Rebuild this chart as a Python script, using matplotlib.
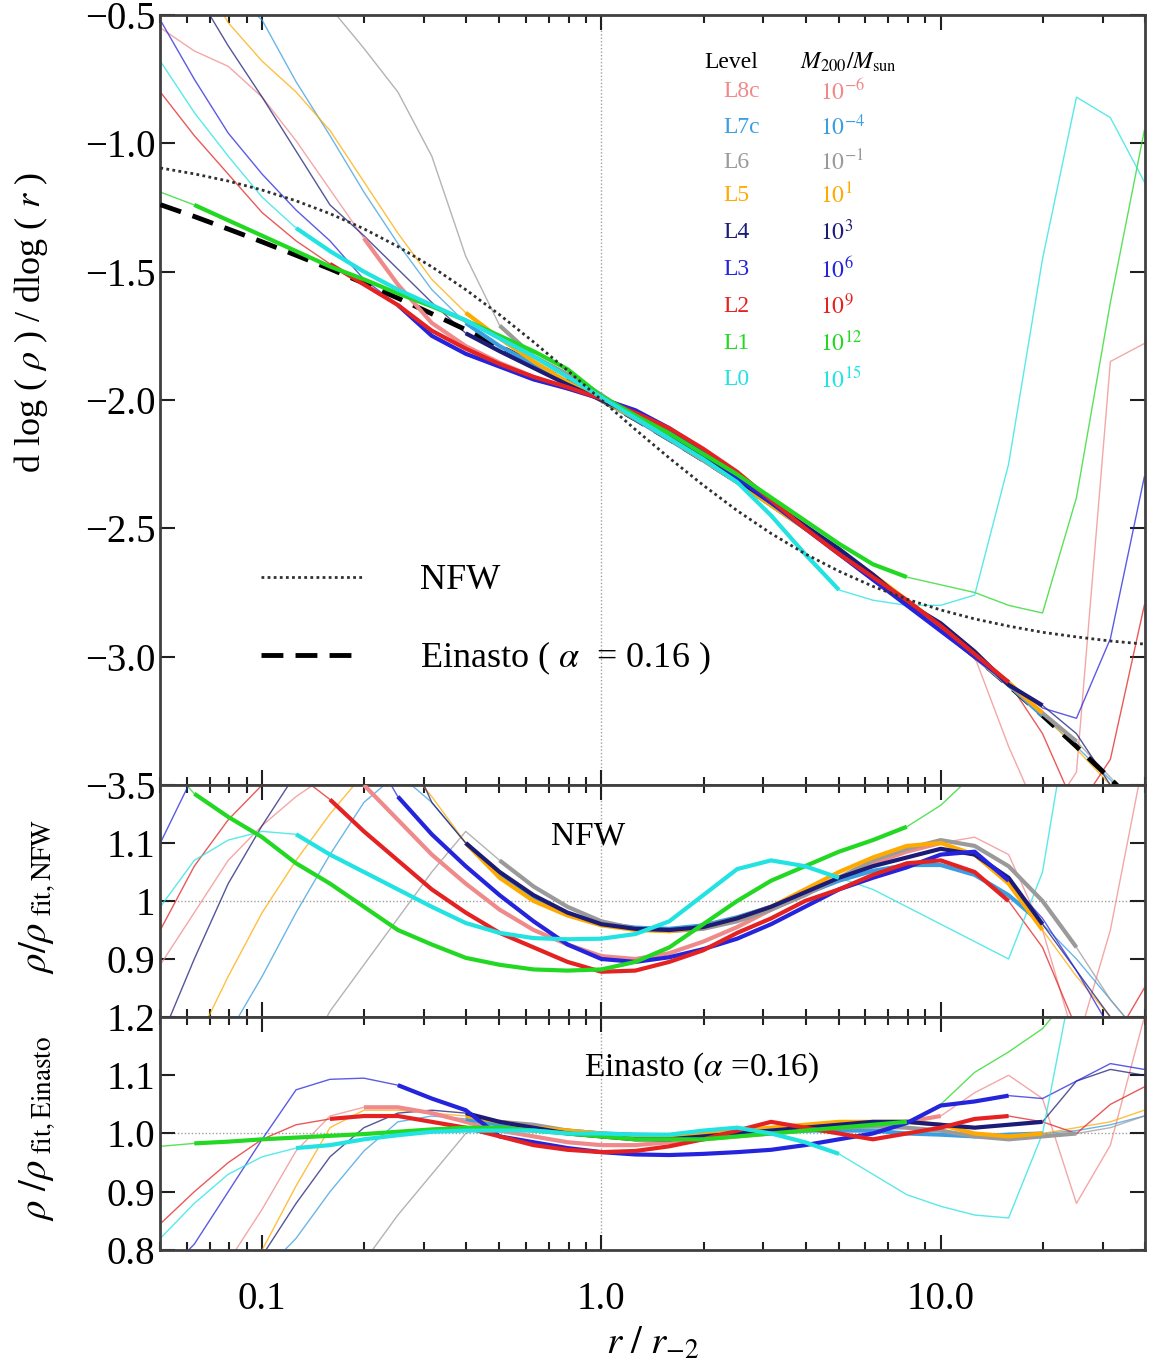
###############################################################
# matplotlib
###############################################################
import numpy as np
import matplotlib
matplotlib.use('Agg')
import matplotlib.pyplot as plt
from matplotlib.lines import Line2D

plt.rcParams['font.family'] = ['Liberation Serif', 'DejaVu Serif']
plt.rcParams['mathtext.fontset'] = 'stix'

###############################################################
# data (log10 r/r_-2 grid, 0.1 dex)
###############################################################
log_r = [-1.3, -1.2, -1.1, -1.0, -0.9, -0.8, -0.7, -0.6, -0.5, -0.4,
         -0.3, -0.2, -0.1, 0.0, 0.1, 0.2, 0.3, 0.4, 0.5, 0.6,
         0.7, 0.8, 0.9, 1.0, 1.1, 1.2, 1.3, 1.4, 1.5, 1.6]

nfw_slope = [-1.096, -1.119, -1.147, -1.182, -1.224, -1.274, -1.333, -1.402, -1.481, -1.570,
             -1.668, -1.774, -1.885, -2.000, -2.115, -2.226, -2.332, -2.431, -2.520, -2.599,
             -2.667, -2.726, -2.776, -2.818, -2.853, -2.881, -2.905, -2.923, -2.939, -2.951]
einasto_slope = [-1.239, -1.285, -1.334, -1.384, -1.436, -1.489, -1.545, -1.603, -1.664, -1.726,
                 -1.791, -1.858, -1.928, -2.000, -2.075, -2.153, -2.234, -2.318, -2.405, -2.495,
                 -2.588, -2.686, -2.786, -2.891, -2.999, -3.112, -3.229, -3.350, -3.476, -3.606]

levels = ['L8c', 'L7c', 'L6', 'L5', 'L4', 'L3', 'L2', 'L1', 'L0']
masses = ['-6', '-4', '-1', '1', '3', '6', '9', '12', '15']
colors = ['#f08a8a', '#3a9ee0', '#9a9a9a', '#ffaa00', '#1c1c78',
          '#2424dc', '#e42222', '#22d822', '#22e2e2']
# converged (thick) range in log10 r
conv_lo = [-0.7, -0.4, -0.3, -0.4, -0.4, -0.6, -0.8, -1.2, -0.9]
conv_hi = [1.0, 1.3, 1.4, 1.3, 1.3, 1.2, 1.2, 0.9, 0.7]

# top panel: logarithmic slope
top_L8c = [-0.55, -0.64, -0.70, -0.82, -0.99, -1.18, -1.37, -1.55, -1.70, -1.79, -1.855, -1.91, -1.955, -1.997, -2.05,
           -2.12, -2.20, -2.29, -2.39, -2.49, -2.59, -2.69, -2.79, -2.89, -3.00, -3.35, -3.65, -3.45, -1.85, -1.78]
top_L7c = [-0.2, -0.3, -0.4, -0.52, -0.76, -0.97, -1.19, -1.39, -1.57, -1.70, -1.79, -1.86, -1.93, -2.0, -2.075,
           -2.155, -2.235, -2.32, -2.41, -2.50, -2.59, -2.69, -2.79, -2.89, -3.0, -3.11, -3.23, -3.35, -3.48, -3.62]
top_L6 = [-0.1, -0.1, -0.15, -0.2, -0.25, -0.47, -0.63, -0.80, -1.05, -1.44, -1.71, -1.83, -1.90, -1.98, -2.07,
          -2.15, -2.235, -2.32, -2.41, -2.50, -2.59, -2.69, -2.79, -2.89, -3.0, -3.11, -3.22, -3.33, -3.47, -3.62]
top_L5 = [-0.2, -0.3, -0.53, -0.68, -0.80, -0.95, -1.15, -1.35, -1.53, -1.66, -1.76, -1.85, -1.93, -2.0, -2.07,
          -2.15, -2.23, -2.32, -2.41, -2.50, -2.59, -2.68, -2.78, -2.88, -2.99, -3.10, -3.22, -3.36, -3.50, -3.65]
top_L4 = [-0.3, -0.40, -0.62, -0.82, -1.03, -1.24, -1.36, -1.49, -1.62, -1.74, -1.81, -1.875, -1.94, -2.0, -2.06,
          -2.13, -2.22, -2.31, -2.40, -2.49, -2.58, -2.68, -2.79, -2.87, -2.98, -3.11, -3.19, -3.30, -3.50, -3.7]
top_L3 = [-0.52, -0.75, -0.96, -1.12, -1.26, -1.38, -1.53, -1.63, -1.75, -1.82, -1.87, -1.92, -1.955, -1.995, -2.04,
          -2.11, -2.20, -2.30, -2.40, -2.50, -2.60, -2.70, -2.80, -2.90, -3.00, -3.10, -3.20, -3.24, -2.93, -2.30]
top_L2 = [-0.80, -0.97, -1.12, -1.27, -1.38, -1.47, -1.55, -1.63, -1.73, -1.80, -1.86, -1.91, -1.95, -1.995, -2.05,
          -2.11, -2.19, -2.28, -2.39, -2.50, -2.60, -2.69, -2.78, -2.88, -2.99, -3.10, -3.30, -3.60, -3.40, -2.80]
top_L1 = [-1.19, -1.24, -1.30, -1.36, -1.42, -1.48, -1.53, -1.585, -1.635, -1.69, -1.75, -1.81, -1.88, -1.985, -2.06,
          -2.13, -2.21, -2.29, -2.38, -2.47, -2.56, -2.64, -2.69, -2.72, -2.75, -2.80, -2.83, -2.38, -1.62, -0.95]
top_L0 = [-0.68, -0.88, -1.05, -1.21, -1.33, -1.42, -1.50, -1.57, -1.63, -1.69, -1.76, -1.83, -1.91, -1.99, -2.07,
          -2.15, -2.23, -2.32, -2.45, -2.60, -2.74, -2.78, -2.80, -2.80, -2.76, -2.25, -1.45, -0.82, -0.90, -1.15]

# middle panel: rho / rho_fit,NFW
mid_L8c = [0.89, 0.98, 1.07, 1.13, 1.18, 1.22, 1.20, 1.14, 1.08, 1.03, 0.985, 0.95, 0.925, 0.905, 0.90,
           0.91, 0.93, 0.955, 0.985, 1.015, 1.04, 1.065, 1.085, 1.10, 1.11, 1.08, 0.95, 0.75, 0.95, 1.25]
mid_L7c = [0.45, 0.6, 0.77, 0.87, 0.98, 1.08, 1.17, 1.22, 1.17, 1.10, 1.045, 1.005, 0.978, 0.962, 0.954,
           0.952, 0.958, 0.972, 0.99, 1.012, 1.035, 1.052, 1.062, 1.062, 1.045, 1.01, 0.96, 0.90, 0.83, 0.76]
mid_L6 = [0.3, 0.4, 0.5, 0.6, 0.7, 0.81, 0.89, 0.97, 1.05, 1.12, 1.07, 1.025, 0.99, 0.965, 0.952,
          0.948, 0.952, 0.965, 0.985, 1.01, 1.04, 1.07, 1.09, 1.105, 1.095, 1.06, 1.0, 0.92, 0.83, 0.76]
mid_L5 = [0.5, 0.75, 0.87, 0.98, 1.07, 1.15, 1.22, 1.25, 1.18, 1.10, 1.04, 1.0, 0.975, 0.958, 0.95,
          0.948, 0.955, 0.97, 0.99, 1.02, 1.05, 1.075, 1.095, 1.10, 1.08, 1.03, 0.95, 0.87, 0.80, 0.74]
mid_L4 = [0.76, 0.90, 1.03, 1.13, 1.22, 1.28, 1.30, 1.30, 1.17, 1.10, 1.05, 1.01, 0.98, 0.96, 0.952,
          0.95, 0.955, 0.97, 0.99, 1.015, 1.04, 1.06, 1.075, 1.09, 1.08, 1.04, 0.96, 0.88, 0.80, 0.75]
mid_L3 = [1.10, 1.22, 1.30, 1.30, 1.30, 1.30, 1.28, 1.18, 1.115, 1.06, 1.01, 0.965, 0.925, 0.90, 0.895,
          0.903, 0.917, 0.935, 0.96, 0.99, 1.02, 1.04, 1.058, 1.08, 1.085, 1.035, 0.97, 0.88, 0.78, 0.80]
mid_L2 = [0.95, 1.06, 1.14, 1.20, 1.22, 1.175, 1.12, 1.07, 1.02, 0.98, 0.945, 0.92, 0.895, 0.878, 0.88,
          0.895, 0.915, 0.945, 0.97, 1.0, 1.02, 1.045, 1.065, 1.07, 1.05, 1.0, 0.92, 0.78, 0.75, 0.85]
mid_L1 = [1.25, 1.185, 1.145, 1.11, 1.065, 1.03, 0.99, 0.95, 0.925, 0.902, 0.89, 0.882, 0.88, 0.882, 0.895,
          0.92, 0.96, 1.0, 1.035, 1.06, 1.085, 1.105, 1.128, 1.165, 1.22, 1.3, 1.4, 1.5, 1.6, 1.7]
mid_L0 = [0.99, 1.07, 1.105, 1.12, 1.115, 1.08, 1.05, 1.02, 0.99, 0.962, 0.945, 0.936, 0.934, 0.935, 0.943,
          0.965, 1.01, 1.055, 1.07, 1.06, 1.04, 1.02, 0.99, 0.96, 0.93, 0.90, 1.05, 1.4, 1.6, 1.7]

# bottom panel: rho / rho_fit,Einasto
bot_L8c = [0.70, 0.74, 0.78, 0.87, 0.97, 1.03, 1.045, 1.045, 1.035, 1.02, 1.005, 0.995, 0.985, 0.98, 0.98,
           0.985, 0.99, 0.995, 1.0, 1.005, 1.01, 1.015, 1.02, 1.03, 1.07, 1.10, 1.06, 0.88, 0.98, 1.20]
bot_L7c = [0.5, 0.6, 0.7, 0.76, 0.82, 0.90, 0.97, 1.02, 1.03, 1.025, 1.015, 1.01, 1.005, 1.0, 0.998,
           0.997, 0.998, 1.0, 1.002, 1.005, 1.005, 1.005, 1.0, 0.998, 0.995, 0.998, 1.0, 1.005, 1.015, 1.03]
bot_L6 = [0.4, 0.5, 0.55, 0.6, 0.65, 0.7, 0.78, 0.86, 0.93, 1.0, 1.02, 1.015, 1.005, 1.0, 0.995,
          0.995, 0.998, 1.0, 1.005, 1.01, 1.01, 1.012, 1.01, 1.005, 0.995, 0.99, 0.995, 1.0, 1.01, 1.03]
bot_L5 = [0.5, 0.6, 0.7, 0.80, 0.91, 1.01, 1.04, 1.04, 1.035, 1.03, 1.02, 1.01, 1.005, 1.0, 0.995,
          0.995, 1.0, 1.005, 1.01, 1.015, 1.02, 1.02, 1.02, 1.015, 1.0, 0.995, 1.0, 1.01, 1.02, 1.04]
bot_L4 = [0.5, 0.6, 0.7, 0.79, 0.88, 0.96, 1.01, 1.035, 1.04, 1.035, 1.02, 1.01, 1.0, 0.995, 0.99,
          0.99, 0.995, 1.0, 1.005, 1.01, 1.015, 1.02, 1.02, 1.015, 1.01, 1.015, 1.02, 1.09, 1.11, 1.10]
bot_L3 = [0.75, 0.81, 0.90, 0.99, 1.075, 1.093, 1.095, 1.083, 1.06, 1.04, 0.995, 0.985, 0.975, 0.968, 0.964,
          0.963, 0.965, 0.968, 0.972, 0.98, 0.99, 1.0, 1.018, 1.048, 1.055, 1.065, 1.06, 1.09, 1.12, 1.11]
bot_L2 = [0.845, 0.90, 0.95, 0.99, 1.015, 1.025, 1.03, 1.03, 1.02, 1.01, 0.995, 0.98, 0.972, 0.968, 0.97,
          0.978, 0.99, 1.005, 1.02, 1.01, 1.0, 0.99, 1.0, 1.01, 1.025, 1.03, 1.02, 1.0, 1.05, 1.08]
bot_L1 = [0.978, 0.983, 0.986, 0.99, 0.993, 0.996, 0.999, 1.003, 1.007, 1.01, 1.01, 1.005, 1.0, 0.995, 0.99,
          0.99, 0.99, 0.995, 1.0, 1.005, 1.01, 1.015, 1.02, 1.05, 1.105, 1.14, 1.18, 1.25, 1.3, 1.35]
bot_L0 = [0.82, 0.88, 0.93, 0.96, 0.975, 0.98, 0.99, 0.997, 1.003, 1.005, 1.005, 1.005, 1.0, 1.0, 0.998,
          0.998, 1.005, 1.01, 1.0, 0.985, 0.965, 0.93, 0.895, 0.875, 0.86, 0.855, 1.0, 1.3, 1.4, 1.5]

top_data = [top_L8c, top_L7c, top_L6, top_L5, top_L4, top_L3, top_L2, top_L1, top_L0]
mid_data = [mid_L8c, mid_L7c, mid_L6, mid_L5, mid_L4, mid_L3, mid_L2, mid_L1, mid_L0]
bot_data = [bot_L8c, bot_L7c, bot_L6, bot_L5, bot_L4, bot_L3, bot_L2, bot_L1, bot_L0]

##################################################
# the figure where the plots will be
##################################################
fig = plt.figure(figsize=(11.51, 13.71), dpi=100)
left, width = 0.1390, 0.8558
ax0 = fig.add_axes([left, 0.42743, width, 0.56164])
ax1 = fig.add_axes([left, 0.25821, width, 0.16922], sharex=ax0)
ax2 = fig.add_axes([left, 0.08826, width, 0.16995], sharex=ax0)
axs = [ax0, ax1, ax2]

r = 10.0 ** np.array(log_r)
lr = np.array(log_r)
thin_lw = 1.0
thick_lw = 3.0

for ax, panel in zip(axs, [top_data, mid_data, bot_data]):
    for i in range(len(levels)):
        y = np.array(panel[i])
        ax.plot(r, y, color=colors[i], lw=thin_lw, alpha=0.75, zorder=2)
    for i in range(len(levels)):
        y = np.array(panel[i])
        m = (lr >= conv_lo[i] - 1e-6) & (lr <= conv_hi[i] + 1e-6)
        ax.plot(r[m], y[m], color=colors[i], lw=thick_lw, zorder=4,
                solid_capstyle='butt')

##################################################
# plot 0 - slope
##################################################
ax0.plot(r, nfw_slope, color='#303030', lw=2.0, linestyle=(0, (1, 1.2)), zorder=5)
ax0.plot(r, einasto_slope, color='black', lw=3.5, dashes=(4.5, 2.5), zorder=3)
ax0.set_ylim(-3.5, -0.5)
ax0.set_yticks(np.arange(-3.5, -0.4, 0.5))
ax0.set_yticklabels(['\u22123.5', '\u22123.0', '\u22122.5', '\u22122.0',
                     '\u22121.5', '\u22121.0', '\u22120.5'])
ax0.set_ylabel(r'd log ( $\rho$ ) / dlog ( $r$ )', fontsize=26)
ax0.yaxis.set_label_coords(-0.112, 0.60)

handles = [Line2D([], [], color='#303030', lw=2.0, linestyle=(0, (1, 1.2))),
           Line2D([], [], color='black', lw=3.5, dashes=(4.5, 2.5))]
ax0.legend(handles, ['NFW', r'Einasto ( $\alpha$  = 0.16 )'], loc='lower left',
           bbox_to_anchor=(0.07, 0.098), frameon=False, fontsize=26,
           handlelength=2.8, handletextpad=1.6, labelspacing=1.17)

# level / mass table
ax0.text(0.553, 0.938, 'Level', transform=ax0.transAxes, fontsize=17,
         va='center', ha='left')
ax0.text(0.650, 0.938, r'$M_{200}/M_{\rm sun}$', transform=ax0.transAxes,
         fontsize=17, va='center', ha='left')
row_y = [0.900, 0.8545, 0.809, 0.765, 0.717, 0.669, 0.622, 0.574, 0.526]
for i in range(len(levels)):
    ax0.text(0.5716, row_y[i], levels[i], transform=ax0.transAxes, fontsize=17,
             color=colors[i], va='center', ha='left')
    ax0.text(0.670, row_y[i], r'$10^{%s}$' % masses[i], transform=ax0.transAxes,
             fontsize=17, color=colors[i], va='center', ha='left')

##################################################
# plot 1 - NFW ratio
##################################################
ax1.set_ylim(0.8, 1.2)
ax1.set_yticks([0.9, 1.0, 1.1])
ax1.set_yticklabels(['0.9', '1', '1.1'])
ax1.axhline(1.0, color='#a0a0a0', lw=1.0, linestyle=(0, (1, 1.5)), zorder=1)
ax1.text(0.435, 0.78, 'NFW', transform=ax1.transAxes, fontsize=24, ha='center', va='center')
ax1.set_ylabel(r'$\rho/\rho_{\ \rm fit,NFW}$', fontsize=28)
ax1.yaxis.set_label_coords(-0.105, 0.52)

##################################################
# plot 2 - Einasto ratio
##################################################
ax2.set_ylim(0.8, 1.2)
ax2.set_yticks([0.8, 0.9, 1.0, 1.1, 1.2])
ax2.set_yticklabels(['0.8', '0.9', '1.0', '1.1', '1.2'])
ax2.axhline(1.0, color='#a0a0a0', lw=1.0, linestyle=(0, (1, 1.5)), zorder=1)
ax2.text(0.55, 0.78, r'Einasto ($\alpha$ =0.16)', transform=ax2.transAxes,
         fontsize=24, ha='center', va='center')
ax2.set_ylabel(r'$\rho\ /\rho_{\ \rm fit,Einasto}$', fontsize=28)
ax2.yaxis.set_label_coords(-0.105, 0.52)

##################################################
# shared x axis and styling
##################################################
ax2.set_xscale('log')
ax2.set_xlim(0.05, 40)
ax2.set_xticks([0.1, 1.0, 10.0])
ax2.set_xticklabels(['0.1', '1.0', '10.0'])
ax2.set_xlabel(r'$r\ /\ r_{-2}$', fontsize=28, labelpad=6)

for ax in axs:
    ax.axvline(1.0, color='#a0a0a0', lw=1.0, linestyle=(0, (1, 1.5)), zorder=1)
    ax.tick_params(which='both', direction='in', top=True, right=True,
                   labelsize=28, width=1.5, color='#202020')
    ax.tick_params(which='major', length=11)
    ax.tick_params(which='minor', length=6)
    ax.tick_params(axis='y', which='minor', left=False, right=False)
    for s in ax.spines.values():
        s.set_linewidth(2.0)
        s.set_color('#404040')
for ax in [ax0, ax1]:
    ax.tick_params(axis='x', labelbottom=False)
ax2.tick_params(axis='x', which='major', pad=22)

##################################################
# saving
##################################################
fig.savefig('out.png', dpi=100)
